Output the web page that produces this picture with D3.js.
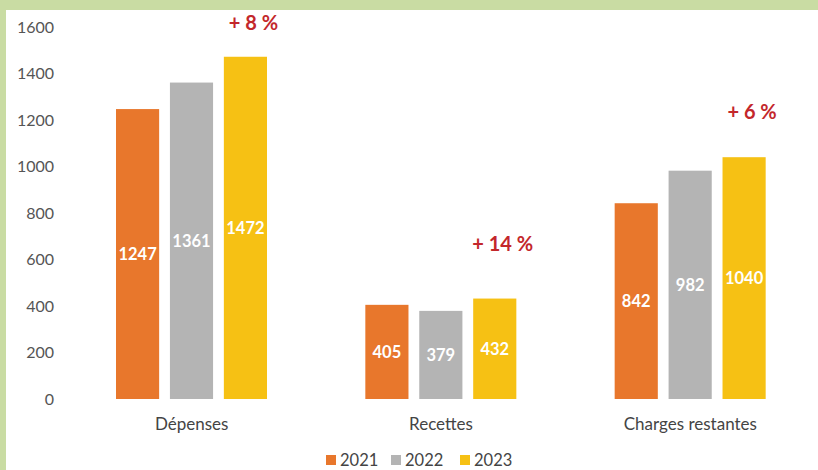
<!DOCTYPE html>
<html>
<head>
<meta charset="utf-8">
<script src="https://cdn.jsdelivr.net/npm/d3@7"></script>
<style>
  html, body { margin: 0; padding: 0; background: #fff; }
  svg { display: block; font-family: Lato, "Open Sans", sans-serif; }
</style>
</head>
<body>
<script>
// chart data
const categories = ["Dépenses", "Recettes", "Charges restantes"];
const years = ["2021", "2022", "2023"];
const values2021 = [1247, 405, 842];
const values2022 = [1361, 379, 982];
const values2023 = [1472, 432, 1040];
const changeLabels = ["+ 8 %", "+ 14 %", "+ 6 %"];
const changeAnchor = [1617, 667, 1234]; // value level where the % sits
const yTicks = [0, 200, 400, 600, 800, 1000, 1200, 1400, 1600];

const colors = ["#e8772c", "#b4b4b4", "#f6c114"];
const series = [values2021, values2022, values2023];

const W = 818, H = 470;
const svg = d3.select("body").append("svg").attr("width", W).attr("height", H);

// scanned page edge
svg.append("rect").attr("width", W).attr("height", H).attr("fill", "#c9dca3");
svg.append("rect").attr("x", 6).attr("y", 10).attr("width", W - 6).attr("height", H - 10).attr("fill", "#fff");

const x0 = d3.scaleBand().domain(categories).range([67, 815]).paddingInner(0).paddingOuter(0);
const x1 = d3.scaleBand().domain(years).range([49, 200]).paddingInner(0.2);
const y = d3.scaleLinear().domain([0, 1600]).range([399, 27]);

// y axis labels
svg.append("g")
  .attr("transform", "translate(54,0)")
  .call(d3.axisLeft(y).tickValues(yTicks).tickFormat(d3.format("d")).tickSize(0).tickPadding(0))
  .call(g => g.select(".domain").remove())
  .selectAll("text")
  .attr("fill", "#555")
  .style("font-size", "16px")
  .style("font-family", "Lato, sans-serif");

// bars
const rows = categories.map((c, i) => ({ cat: c, i: i, vals: series.map((s, k) => ({ year: years[k], k: k, v: s[i] })) }));

const grp = svg.append("g").selectAll("g").data(rows).enter().append("g")
  .attr("transform", d => `translate(${x0(d.cat)},0)`);

grp.selectAll("rect").data(d => d.vals).enter().append("rect")
  .attr("x", d => x1(d.year))
  .attr("width", x1.bandwidth())
  .attr("y", d => y(d.v))
  .attr("height", d => y(0) - y(d.v))
  .attr("fill", d => colors[d.k]);

grp.selectAll("text.val").data(d => d.vals).enter().append("text")
  .attr("class", "val")
  .attr("x", d => x1(d.year) + x1.bandwidth() / 2)
  .attr("y", d => (y(d.v) + y(0)) / 2)
  .attr("dy", "0.35em")
  .attr("text-anchor", "middle")
  .attr("fill", "#fff")
  .attr("font-weight", "bold")
  .style("font-size", "16.5px")
  .text(d => d.v);

// % change annotations
grp.append("text")
  .attr("x", x1("2023") + x1.bandwidth() / 2 + 8)
  .attr("y", d => y(changeAnchor[d.i]))
  .attr("dy", "0.35em")
  .attr("text-anchor", "middle")
  .attr("fill", "#c3272b")
  .attr("font-weight", "bold")
  .style("font-size", "20px")
  .text(d => changeLabels[d.i]);

// category labels
svg.append("g")
  .attr("transform", "translate(0,424)")
  .call(d3.axisBottom(x0).tickSize(0).tickPadding(0))
  .call(g => g.select(".domain").remove())
  .selectAll("text")
  .attr("fill", "#444")
  .attr("y", 0)
  .attr("dy", "0.35em")
  .style("font-size", "17px")
  .style("font-family", "Lato, sans-serif");

// legend
const legendX = [326, 391, 460];
const legend = svg.append("g").selectAll("g").data(years).enter().append("g")
  .attr("transform", (d, i) => `translate(${legendX[i]},460)`);
legend.append("rect").attr("x", 0).attr("y", -5).attr("width", 10).attr("height", 10)
  .attr("fill", (d, i) => colors[i]);
legend.append("text").attr("x", 14).attr("dy", "0.35em")
  .attr("fill", "#444").style("font-size", "16.5px").text(d => d);
</script>
</body>
</html>
